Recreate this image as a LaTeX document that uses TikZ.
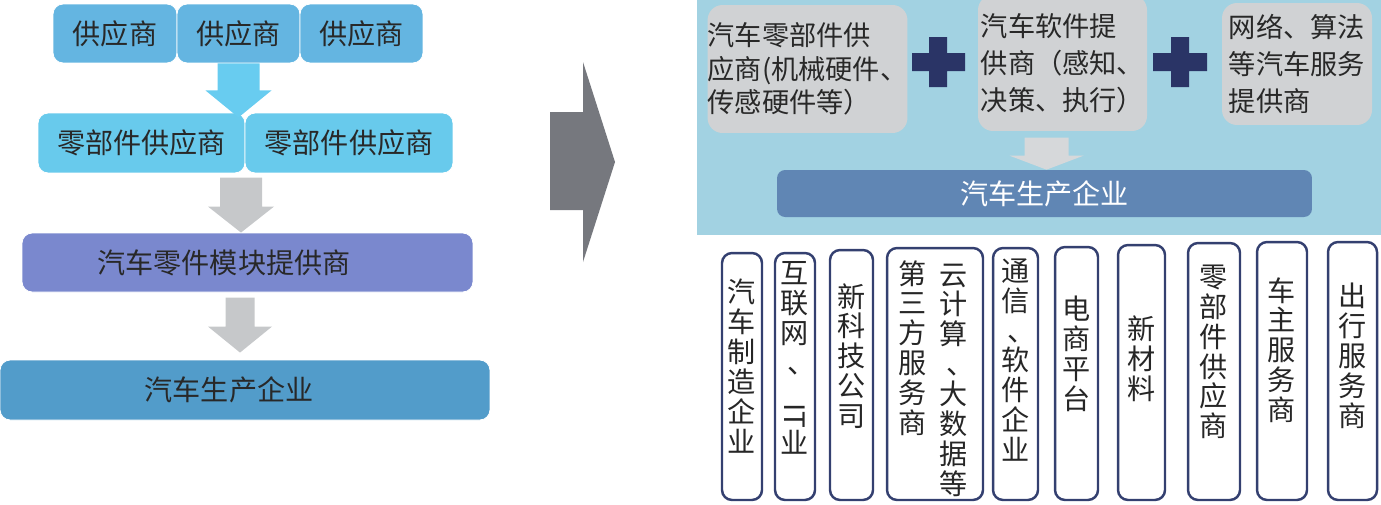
\documentclass[tikz,border=0pt]{standalone}
\usepackage{fontspec}
\setmainfont{Noto Sans CJK SC}
\usepackage{tikz}

\definecolor{supblue}{RGB}{100,181,225}
\definecolor{partcyan}{RGB}{104,202,236}
\definecolor{arrowcyan}{RGB}{104,204,240}
\definecolor{arrowgray}{RGB}{198,200,202}
\definecolor{modpurple}{RGB}{122,136,206}
\definecolor{prodblue}{RGB}{82,156,202}
\definecolor{bigarrow}{RGB}{118,120,126}
\definecolor{panelblue}{RGB}{162,210,226}
\definecolor{boxgray}{RGB}{208,210,212}
\definecolor{plusnavy}{RGB}{42,52,102}
\definecolor{barblue}{RGB}{96,134,180}
\definecolor{lightarrow}{RGB}{214,216,218}
\definecolor{framenavy}{RGB}{52,64,112}
\definecolor{txtgray}{RGB}{40,40,40}

% vertical enumeration comma, moved towards the middle of its cell
\newcommand{\vdun}{\hspace*{0.45em}、\hspace*{-0.45em}}

\begin{document}
\begin{tikzpicture}[x=0.02cm, y=-0.02cm,
  flowbox/.style={rounded corners=0.2cm, draw=white, line width=0.5pt, text=txtgray, inner sep=0pt, font=\fontsize{16pt}{19pt}\selectfont},
  greybox/.style={rounded corners=0.3cm, fill=boxgray, text=txtgray, align=left, inner sep=0pt, font=\fontsize{15.5pt}{19pt}\selectfont},
  vbox/.style={rounded corners=0.2cm, draw=framenavy, line width=1.4pt, fill=white, inner sep=0pt},
  vtext/.style={align=center, text=black!85, inner sep=0pt, font=\fontsize{16pt}{17pt}\selectfont}]
\useasboundingbox (0,0) rectangle (1381,504);

% old chain (left)
\node[flowbox, fill=supblue, minimum width=2.48cm, minimum height=1.18cm] (sup1) at (115,33.5) {供应商};
\node[flowbox, fill=supblue, minimum width=2.46cm, minimum height=1.18cm] (sup2) at (238.5,33.5) {供应商};
\node[flowbox, fill=supblue, minimum width=2.46cm, minimum height=1.18cm] (sup3) at (361.5,33.5) {供应商};

\node[flowbox, fill=partcyan, minimum width=4.14cm, minimum height=1.2cm] (part1) at (141.5,143) {零部件供应商};
\node[flowbox, fill=partcyan, minimum width=4.16cm, minimum height=1.2cm] (part2) at (349,143) {零部件供应商};

\node[flowbox, fill=modpurple, minimum width=9.02cm, minimum height=1.18cm] (module) at (247.5,262.5) {汽车零件模块提供商\hspace*{0.94cm}};
\node[flowbox, fill=prodblue, minimum width=9.8cm, minimum height=1.2cm] (oemL) at (245,390) {汽车生产企业\hspace*{0.64cm}};

% block arrows
\fill[arrowcyan] (sup2.south) ++(-21,0) -- ++(0,27) -- ++(-12,0) -- ++(33,27) -- ++(33,-27) -- ++(-12,0) -- ++(0,-27) -- cycle;
\fill[arrowgray] (module.north) ++(-6.5,0) -- ++(-33,-26) -- ++(12,0) -- ++(0,-29) -- ++(42,0) -- ++(0,29) -- ++(12,0) -- cycle;
\fill[arrowgray] (oemL.north) ++(-5,-7) -- ++(-32,-26) -- ++(17.5,0) -- ++(0,-29) -- ++(29,0) -- ++(0,29) -- ++(17.5,0) -- cycle;

% big arrow in the middle
\fill[bigarrow] (550,112) -- (583,112) -- (583,62) -- (615,162) -- (583,262) -- (583,210) -- (550,210) -- cycle;

% new chain (right)
\node[fill=panelblue, minimum width=13.68cm, minimum height=4.7cm, inner sep=0pt] (panel) at (1039,117.5) {};

\node[greybox, minimum width=3.86cm, minimum height=2.56cm] (hw) at (807.5,69) {汽车零部件供\\应商(机械硬件、\\传感硬件等）};
\node[greybox, minimum width=3.38cm, minimum height=2.72cm, font=\fontsize{15.5pt}{21pt}\selectfont] (sw) at (1062.5,63) {汽车软件提\\供商（感知、\\决策、执行）};
\node[greybox, minimum width=3.0cm, minimum height=2.44cm, font=\fontsize{15.5pt}{21pt}\selectfont] (net) at (1297,64) {网络、算法\\等汽车服务\\提供商};

% plus signs
\fill[plusnavy] (912,53) rectangle (965,71) (929,37) rectangle (947,87);
\fill[plusnavy] (1153,53) rectangle (1207,71) (1171,37) rectangle (1189,87);

\node[fill=barblue, rounded corners=0.16cm, minimum width=10.7cm, minimum height=0.94cm, inner sep=0pt, text=white, font=\fontsize{16pt}{19pt}\selectfont] (oemR) at (1044.5,193.5) {汽车生产企业};
\fill[lightarrow] (oemR.north) ++(2,0) -- ++(-37,-14) -- ++(15,0) -- ++(0,-18) -- ++(44,0) -- ++(0,18) -- ++(15,0) -- cycle;

% participants
\node[vbox, minimum width=0.8cm, minimum height=4.94cm] (maker) at (742,376.5) {};
\node[vtext] (maker-t) at (742,366) {汽\\车\\制\\造\\企\\业};
\node[vbox, minimum width=0.8cm, minimum height=4.94cm] (inet) at (795,376.5) {};
\node[vtext] (inet-t) at (795,358) {互\\联\\网\\\vdun\\\rotatebox{-90}{IT}\\业};
\node[vbox, minimum width=0.86cm, minimum height=5.0cm] (tech) at (851.5,375) {};
\node[vtext] (tech-t) at (851.5,356) {新\\科\\技\\公\\司};
\node[vbox, minimum width=1.92cm, minimum height=5.04cm] (third) at (935,374) {};
\node[vtext] (third-t) at (913,348) {第\\三\\方\\服\\务\\商};
\node[vtext] (cloud-t) at (954,380) {云\\计\\算\\\vdun\\大\\数\\据\\等};
\node[vbox, minimum width=0.9cm, minimum height=5.04cm] (telecom) at (1015.5,374) {};
\node[vtext] (telecom-t) at (1015.5,360) {通\\信\\\vdun\\软\\件\\企\\业};
\node[vbox, minimum width=0.86cm, minimum height=5.06cm] (ecom) at (1076.5,373.5) {};
\node[vtext] (ecom-t) at (1076.5,354) {电\\商\\平\\台};
\node[vbox, minimum width=0.94cm, minimum height=5.1cm] (material) at (1141.5,372.5) {};
\node[vtext] (material-t) at (1141.5,359) {新\\材\\料};
\node[vbox, minimum width=1.04cm, minimum height=5.14cm] (parts) at (1214,371.5) {};
\node[vtext] (parts-t) at (1214,352) {零\\部\\件\\供\\应\\商};
\node[vbox, minimum width=1.0cm, minimum height=5.16cm] (owner) at (1282,371) {};
\node[vtext] (owner-t) at (1282,350) {车\\主\\服\\务\\商};
\node[vbox, minimum width=0.98cm, minimum height=5.16cm] (travel) at (1352.5,371) {};
\node[vtext] (travel-t) at (1352.5,356) {出\\行\\服\\务\\商};

\end{tikzpicture}
\end{document}
